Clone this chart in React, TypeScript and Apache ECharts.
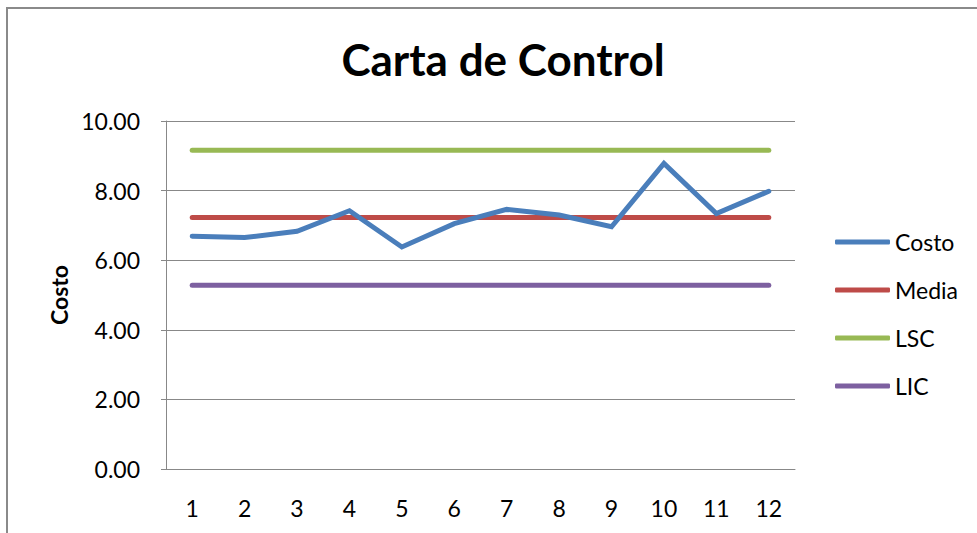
import React, { useEffect, useRef } from "react";
import * as echarts from "echarts";

const categories = ["1", "2", "3", "4", "5", "6", "7", "8", "9", "10", "11", "12"];
const costo = [6.69, 6.65, 6.83, 7.42, 6.38, 7.05, 7.46, 7.3, 6.96, 8.78, 7.34, 7.98];
const media = Array(12).fill(7.23);
const lsc = Array(12).fill(9.16);
const lic = Array(12).fill(5.28);
const seriesNames = ["Costo", "Media", "LSC", "LIC"];
const colors = ["#4A7EBB", "#BE4B48", "#98B954", "#7D60A0"];

export default function App() {
  const ref = useRef<HTMLDivElement>(null);
  useEffect(() => {
    if (!ref.current) return;
    const chart = echarts.init(ref.current, null, { renderer: "svg" });
    const datasets = [costo, media, lsc, lic];
    chart.setOption({
      animation: false,
      backgroundColor: "#ffffff",
      textStyle: { fontFamily: "Lato, 'Open Sans', sans-serif" },
      title: {
        text: "Carta de Control",
        left: 498,
        textAlign: "center",
        top: 32,
        textStyle: { fontSize: 44, fontWeight: "bold", color: "#000", fontFamily: "Lato" },
      },
      graphic: [
        {
          type: "rect",
          shape: { x: 7, y: 8, width: 1000, height: 600 },
          style: { fill: "none", stroke: "#8a8a8a", lineWidth: 2 },
          silent: true,
        },
      ],
      grid: { left: 166, right: 182, top: 121, bottom: 64 },
      legend: {
        orient: "vertical",
        left: 830,
        top: 225,
        itemWidth: 55,
        itemHeight: 5,
        itemGap: 24,
        icon: "roundRect",
        data: seriesNames,
        textStyle: { fontSize: 23, color: "#000", fontFamily: "Lato", lineHeight: 24 },
      },
      xAxis: {
        type: "category",
        data: categories,
        boundaryGap: true,
        axisLine: { lineStyle: { color: "#888", width: 1 } },
        axisTick: { show: false },
        axisLabel: { fontSize: 23, color: "#000", margin: 27, fontFamily: "Lato" },
      },
      yAxis: {
        type: "value",
        min: 0,
        max: 10,
        interval: 2,
        name: "Costo",
        nameLocation: "middle",
        nameGap: 94,
        nameTextStyle: { fontSize: 23, fontWeight: "bold", color: "#000", fontFamily: "Lato" },
        axisLine: { show: true, lineStyle: { color: "#888", width: 1 } },
        axisTick: { show: true, length: 5, lineStyle: { color: "#888" } },
        splitLine: { lineStyle: { color: "#888", width: 1 } },
        axisLabel: {
          fontSize: 23,
          color: "#000",
          margin: 26,
          fontFamily: "Lato",
          formatter: (v: number) => v.toFixed(2),
        },
      },
      series: seriesNames.map((name, i) => ({
        name,
        type: "line",
        data: datasets[i],
        showSymbol: false,
        symbol: "none",
        color: colors[i],
        lineStyle: { width: 5, color: colors[i], cap: "round", join: "miter" },
        z: 10 - i,
      })),
    });
    return () => chart.dispose();
  }, []);
  return (
    <div
      ref={ref}
      style={{ position: "fixed", left: 0, top: 0, width: 977, height: 533 }}
    />
  );
}
